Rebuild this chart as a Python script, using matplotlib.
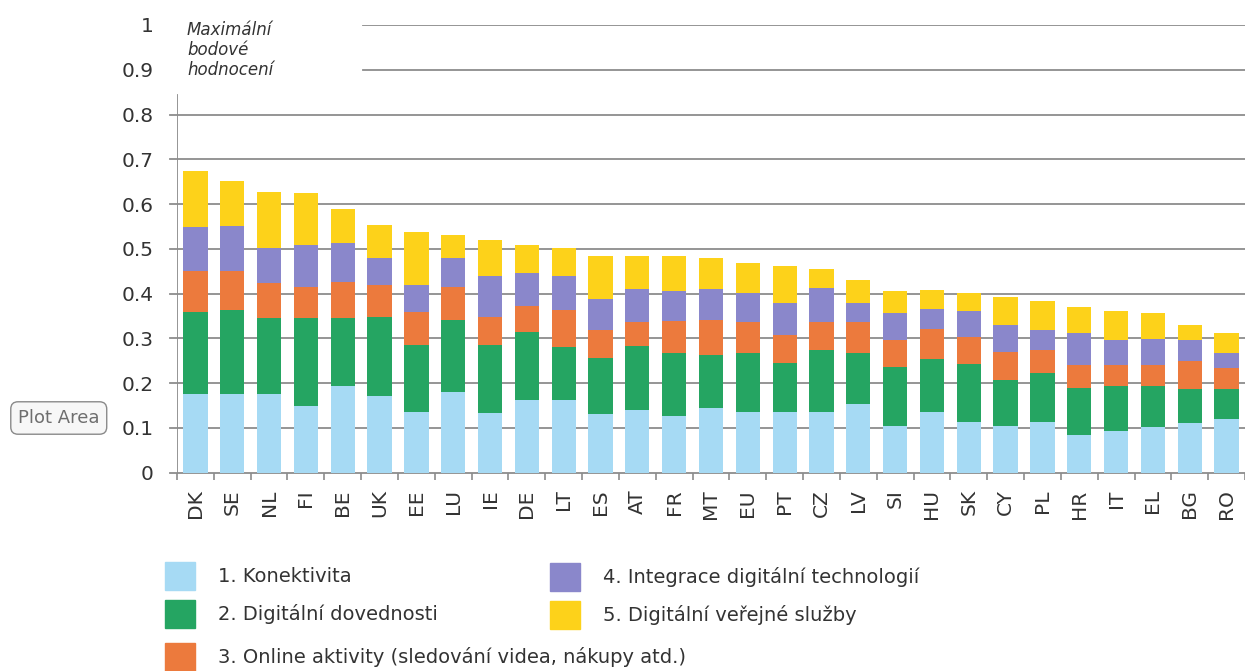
import matplotlib.pyplot as plt
from matplotlib.patches import Rectangle
import numpy as np

# DATA
countries = ["DK", "SE", "NL", "FI", "BE", "UK", "EE", "LU", "IE", "DE",
             "LT", "ES", "AT", "FR", "MT", "EU", "PT", "CZ", "LV", "SI",
             "HU", "SK", "CY", "PL", "HR", "IT", "EL", "BG", "RO"]

konektivita = [0.175, 0.175, 0.175, 0.149, 0.194, 0.171, 0.136, 0.181, 0.133, 0.162,
               0.162, 0.131, 0.140, 0.127, 0.144, 0.135, 0.135, 0.135, 0.153, 0.105,
               0.136, 0.114, 0.105, 0.114, 0.084, 0.093, 0.101, 0.110, 0.121]
dovednosti = [0.183, 0.188, 0.170, 0.196, 0.151, 0.177, 0.149, 0.160, 0.152, 0.153,
              0.119, 0.126, 0.144, 0.141, 0.120, 0.133, 0.109, 0.139, 0.114, 0.131,
              0.117, 0.129, 0.102, 0.108, 0.106, 0.101, 0.093, 0.078, 0.067]
online = [0.092, 0.087, 0.078, 0.070, 0.082, 0.071, 0.075, 0.074, 0.063, 0.058,
          0.082, 0.062, 0.053, 0.071, 0.077, 0.069, 0.063, 0.063, 0.070, 0.061,
          0.069, 0.061, 0.063, 0.052, 0.050, 0.046, 0.046, 0.062, 0.045]
integrace = [0.098, 0.100, 0.080, 0.094, 0.087, 0.060, 0.059, 0.064, 0.091, 0.074,
             0.076, 0.068, 0.073, 0.067, 0.069, 0.064, 0.073, 0.076, 0.041, 0.059,
             0.044, 0.057, 0.061, 0.045, 0.073, 0.056, 0.058, 0.046, 0.035]
verejne = [0.127, 0.102, 0.124, 0.115, 0.074, 0.074, 0.119, 0.052, 0.081, 0.062,
           0.062, 0.096, 0.073, 0.077, 0.069, 0.068, 0.082, 0.043, 0.052, 0.050,
           0.041, 0.040, 0.062, 0.064, 0.058, 0.066, 0.059, 0.035, 0.045]

series = [konektivita, dovednosti, online, integrace, verejne]
labels = ["1. Konektivita",
          "2. Digitální dovednosti",
          "3. Online aktivity (sledování videa, nákupy atd.)",
          "4. Integrace digitální technologií",
          "5. Digitální veřejné služby"]
colors = ["#a6daf4", "#25a562", "#ec7a3d", "#8a87cb", "#fdd21a"]

yticks = [0, 0.1, 0.2, 0.3, 0.4, 0.5, 0.6, 0.7, 0.8, 0.9, 1]

W, H = 1245, 671
fig = plt.figure(figsize=(W / 100, H / 100), dpi=100)
ax = fig.add_axes([177 / W, 1 - 472.7 / H, (W - 177) / W, (472.7 - 25) / H])

x = np.arange(len(countries))
bottom = np.zeros(len(countries))
for vals, c in zip(series, colors):
    ax.bar(x, vals, bottom=bottom, width=0.66, color=c, zorder=3)
    bottom += np.array(vals)

ax.set_xlim(-0.5, len(countries) - 0.5)
ax.set_ylim(0, 1)

# grid lines: lower ones stick out a little left, top two start after the note
for t in yticks:
    if t >= 0.9:
        ax.axhline(t, xmin=0.174, xmax=1, color="#8c8c8c", lw=1.3, zorder=1)
    else:
        ax.axhline(t, xmin=-0.007, xmax=1, color="#8c8c8c", lw=1.3,
                   zorder=1, clip_on=False)
ax.axvline(-0.5, ymin=0, ymax=0.844, color="#8c8c8c", lw=1.3, zorder=4)

for s in ax.spines.values():
    s.set_visible(False)

ax.set_yticks(yticks)
ax.set_yticklabels([("%g" % t) for t in yticks])
ax.tick_params(axis="y", length=0, pad=17, labelsize=14.5, labelcolor="#333333")

ax.set_xticks(x)
ax.set_xticklabels(countries, rotation=90)
ax.tick_params(axis="x", length=0, pad=12, labelsize=14.5, labelcolor="#333333")
ax.set_xticks(np.arange(len(countries) + 1) - 0.5, minor=True)
ax.tick_params(axis="x", which="minor", length=5, width=1.2, color="#8c8c8c",
               direction="out")

ax.text(187 / W, 1 - 50 / H, "Maximální\nbodové\nhodnocení", transform=fig.transFigure,
        fontsize=12, style="italic", color="#333333", va="center", ha="left",
        linespacing=1.15)

# legend drawn by hand (Excel layout)
leg = [(165, 576, 0), (165, 614, 1), (165, 657, 2), (550, 577, 3), (550, 615, 4)]
for px, py, i in leg:
    fig.add_artist(Rectangle((px / W, 1 - (py + 14) / H), 30 / W, 28 / H,
                             transform=fig.transFigure, color=colors[i]))
    tx = 218 if px < 300 else 603
    fig.text(tx / W, 1 - py / H, labels[i], fontsize=14, color="#333333",
             va="center", ha="left")

# "Plot Area" tooltip left over from the screenshot
fig.text(18 / W, 1 - 418 / H, "Plot Area", fontsize=13, color="#6e6e6e",
         va="center", ha="left", zorder=10,
         bbox=dict(boxstyle="round,pad=0.4", fc="#f7f7f7", ec="#8a8a8a", lw=1))

fig.savefig("out.png", dpi=100)
